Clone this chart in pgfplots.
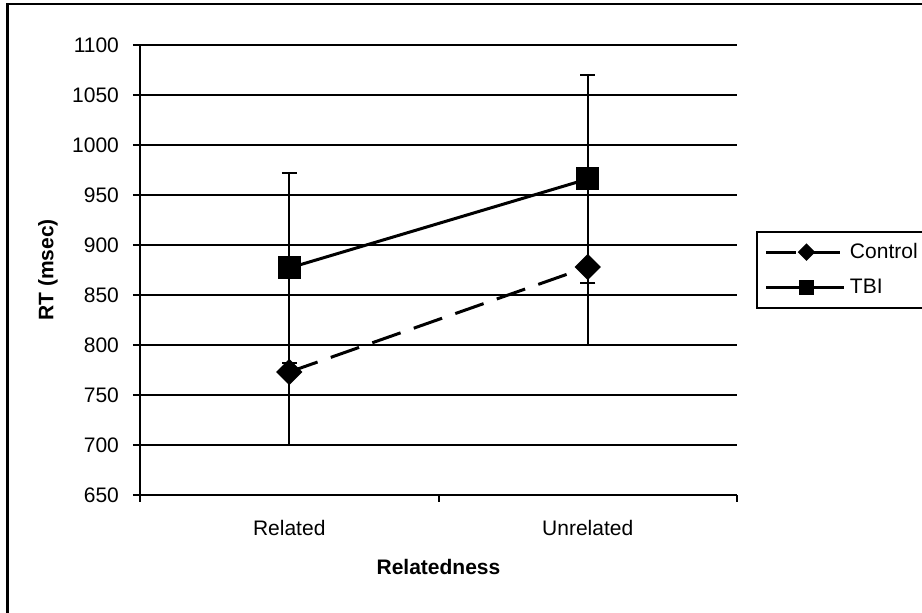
\documentclass[border=0pt]{standalone}
\usepackage{pgfplots}
\pgfplotsset{compat=1.18}
\usepackage{fontspec}
\setmainfont{Liberation Sans}

\newcommand{\chartfont}{\fontsize{10.5}{12}\selectfont}

\begin{document}
\begin{tikzpicture}
\fill[white] (0,0) rectangle (461pt,306.5pt);
\useasboundingbox (0,0) rectangle (461pt,306.5pt);
% outer chart frame
\draw[line width=1.3pt] (3.75pt,-2pt) -- (3.75pt,304.4pt) -- (465pt,304.4pt);
\begin{axis}[
  at={(70pt,59pt)}, anchor=south west,
  scale only axis, width=298.5pt, height=225pt,
  xmin=-0.5, xmax=1.5, ymin=650, ymax=1100,
  axis lines=left, axis line style={-, line width=1pt, black},
  ytick={650,700,...,1100},
  xtick={-0.5,0.5,1.5}, xticklabels={},
  extra x ticks={0,1}, extra x tick labels={Related,Unrelated},
  extra x tick style={major tick length=0pt, grid=none},
  tick align=outside, major tick length=3.5pt,
  tick style={black, line width=1pt},
  ymajorgrids, grid style={black, line width=0.9pt},
  /pgf/number format/assume math mode=true,
  /pgf/number format/1000 sep={},
  tick label style={font=\chartfont},
  yticklabel style={xshift=-3.5pt},
  xticklabel style={yshift=-9pt},
  xlabel={Relatedness}, ylabel={RT (msec)},
  label style={font=\bfseries\chartfont},
  xlabel style={at={(axis description cs:0.5,0)}, anchor=center, yshift=-36pt},
  ylabel style={at={(axis description cs:0,0.5)}, anchor=center, yshift=46pt},
  legend style={at={(axis description cs:1.0318,0.5867)}, anchor=north west,
    draw=black, line width=1pt, font=\chartfont, cells={anchor=west},
    inner xsep=4pt, inner ysep=3.5pt, row sep=5pt},
  legend image code/.code={%
    \draw[mark repeat=2, mark phase=2, every mark/.append style={scale=0.6}]
      plot coordinates {(0pt,0pt) (20pt,0pt) (39pt,0pt)};},
]
% Control group
\addplot[black, line width=1.5pt, dash pattern=on 15pt off 7pt,
  mark=square*, mark size=3.9pt, mark options={rotate=45, solid},
  error bars/.cd, y dir=both, y explicit,
  error bar style={line width=1pt, solid},
  error mark options={rotate=90, mark size=3.75pt, line width=1pt, solid}]
  coordinates {(0,773) += (0,77) -= (0,73) (1,878) +- (0,78)};
\addlegendentry{Control\hspace*{8pt}}
% TBI group
\addplot[black, line width=1.5pt,
  mark=square*, mark size=5pt, mark options={solid},
  error bars/.cd, y dir=both, y explicit,
  error bar style={line width=1pt, solid},
  error mark options={rotate=90, mark size=3.75pt, line width=1pt, solid}]
  coordinates {(0,877) +- (0,95) (1,966) +- (0,104)};
\addlegendentry{TBI}
\end{axis}
\end{tikzpicture}
\end{document}
